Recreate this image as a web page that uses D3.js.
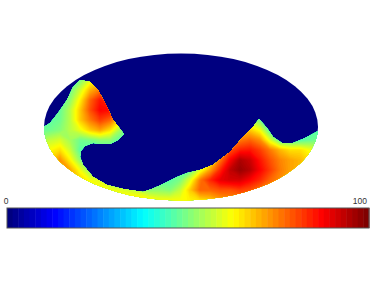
<!DOCTYPE html>
<html>
<head>
<meta charset="utf-8">
<script src="https://cdn.jsdelivr.net/npm/d3@7"></script>
<style>
  html, body { margin: 0; padding: 0; background: #fff; }
  svg { display: block; }
</style>
</head>
<body>
<div id="chart"></div>
<script>
// jet colormap, value -> colour
const jetStops = [0, 12.5, 37.5, 62.5, 87.5, 100];
const jetColors = ['#000080', '#0000ff', '#00ffff', '#ffff00', '#ff0000', '#800000'];
const scaleLabels = [0, 100];

// map values, west to east, north to south
const heatRows = [
  [46,46,46,46,47,50,54,52,46,45,45,45,45,45,45,45,45,45,45,45,45,45,45,45,45,45,45,45,45],
  [46,46,46,47,50,60,66,62,50,45,45,45,45,45,45,45,45,45,45,45,45,45,45,45,45,45,45,45,45],
  [46,46,47,49,58,70,76,72,56,45,45,45,45,45,45,45,45,45,45,45,45,45,45,45,45,45,45,45,45],
  [46,46,47,52,64,78,86,82,68,45,45,45,45,45,45,45,45,45,45,45,45,45,45,45,45,45,45,45,45],
  [46,47,48,56,68,80,88,87,78,52,45,45,45,45,45,45,45,45,45,45,45,45,45,45,45,45,45,45,45],
  [47,47,49,56,68,76,82,78,66,50,45,45,45,45,45,45,45,45,45,45,55,56,50,45,45,45,45,45,45],
  [48,49,51,56,61,68,72,66,54,46,45,45,45,45,45,45,45,45,45,60,68,68,62,46,45,45,45,46,47],
  [54,57,59,54,49,50,52,52,47,45,45,45,45,45,45,45,45,45,45,70,76,78,74,60,47,46,46,48,50],
  [60,63,66,58,47,45,45,45,45,45,45,45,45,45,45,45,45,45,70,80,85,86,82,76,70,66,66,62,56],
  [62,68,74,64,52,47,46,45,45,45,45,45,45,45,45,45,55,62,76,88,96,93,86,80,75,72,70,66,60],
  [62,68,74,72,62,52,47,46,45,45,45,45,45,45,47,48,60,72,84,94,98,95,88,82,76,72,70,66,60],
  [62,68,74,72,68,62,60,52,46,45,45,45,46,47,50,60,76,84,90,92,92,88,84,78,74,70,66,62,58],
  [62,68,72,70,68,66,64,62,60,58,56,52,52,51,57,68,78,78,80,80,82,80,76,74,68,64,60,56,54],
  [62,68,72,70,68,66,66,66,66,66,66,64,62,62,62,64,66,68,72,74,74,74,70,66,62,58,54,52,50],
  [62,68,72,70,68,66,66,66,66,66,66,64,62,62,62,64,66,68,72,74,74,74,70,66,62,58,54,52,50]
];

// edge of the observed region, in map units (-1..1 across the ellipse)
const coverageX = [-1.1,-1.015,-.956,-.898,-.832,-.788,-.737,-.664,-.606,-.555,-.496,-.416,-.46,-.518,-.577,-.642,-.701,-.73,-.737,-.715,-.642,-.54,-.423,-.277,-.212,-.131,-.029,.044,.139,.234,.358,.453,.526,.569,.628,.672,.737,.818,.905,1.015,1.1,1.1,-1.1];
const coverageY = [-.014,-.014,.054,.19,.367,.544,.639,.612,.503,.327,.095,-.095,-.177,-.231,-.231,-.218,-.259,-.327,-.408,-.517,-.68,-.789,-.844,-.884,-.844,-.776,-.68,-.626,-.585,-.517,-.34,-.136,0,.109,-.014,-.136,-.218,-.218,-.15,-.041,-.041,-1.1,-1.1];

const width = 374, height = 281;
const cols = heatRows[0].length, rows = heatRows.length;

const color = d3.scaleLinear().domain(jetStops).range(jetColors).clamp(true);

const mapX = d3.scaleLinear().domain([-1, 1]).range([44, 318]);
const mapY = d3.scaleLinear().domain([1, -1]).range([53.5, 200.5]);

// grid samples, contours puts sample i at i + .5
const gridX = d3.scaleLinear().domain([0.5, cols - 0.5]).range([40, 320]);
const gridY = d3.scaleLinear().domain([0.5, rows - 0.5]).range([70, 210]);

const svg = d3.select('#chart').append('svg')
    .attr('width', width)
    .attr('height', height);

const defs = svg.append('defs');

defs.append('clipPath').attr('id', 'sky')
  .append('ellipse')
    .attr('cx', mapX(0)).attr('cy', mapY(0))
    .attr('rx', mapX(1) - mapX(0)).attr('ry', mapY(-1) - mapY(0));

const edgeLine = d3.line()
    .x(d => mapX(d[0]))
    .y(d => mapY(d[1]));

defs.append('clipPath').attr('id', 'coverage')
  .append('path')
    .attr('d', edgeLine(d3.zip(coverageX, coverageY)) + 'Z');

svg.append('ellipse')
    .attr('cx', mapX(0)).attr('cy', mapY(0))
    .attr('rx', mapX(1) - mapX(0)).attr('ry', mapY(-1) - mapY(0))
    .attr('fill', color(0));

const thresholds = d3.range(40, 100, 100 / 128);

const contours = d3.contours()
    .size([cols, rows])
    .smooth(true)
    .thresholds(thresholds)(heatRows.flat());

const path = d3.geoPath(d3.geoTransform({
  point(x, y) { this.stream.point(gridX(x), gridY(y)); }
}));

svg.append('g').attr('clip-path', 'url(#sky)')
  .append('g').attr('clip-path', 'url(#coverage)')
  .selectAll('path')
  .data(contours)
  .join('path')
    .attr('d', path)
    .attr('fill', d => color(d.value));

// colour bar, 64 steps
const barX = d3.scaleBand().domain(d3.range(64)).range([7, 369]);
const barValue = d3.scaleLinear().domain([0, 63]).range([0, 100]);
const labelX = d3.scaleLinear().domain([0, 100]).range([7, 369]);

svg.append('g')
  .selectAll('rect')
  .data(barX.domain())
  .join('rect')
    .attr('x', d => barX(d))
    .attr('y', 208)
    .attr('width', barX.bandwidth() + 0.5)
    .attr('height', 20)
    .attr('fill', d => color(barValue(d)));

svg.append('rect')
    .attr('x', 7).attr('y', 208)
    .attr('width', 362).attr('height', 20)
    .attr('fill', 'none')
    .attr('stroke', '#555')
    .attr('stroke-width', 1);

svg.append('g')
  .selectAll('text')
  .data(scaleLabels)
  .join('text')
    .attr('x', d => d === 0 ? labelX(d) - 1 : labelX(d) - 2)
    .attr('y', 204)
    .attr('text-anchor', d => d === 0 ? 'middle' : 'end')
    .attr('font-family', 'Liberation Sans, Arial, sans-serif')
    .attr('font-size', 8.5)
    .attr('fill', '#333')
    .text(d => d);
</script>
</body>
</html>
